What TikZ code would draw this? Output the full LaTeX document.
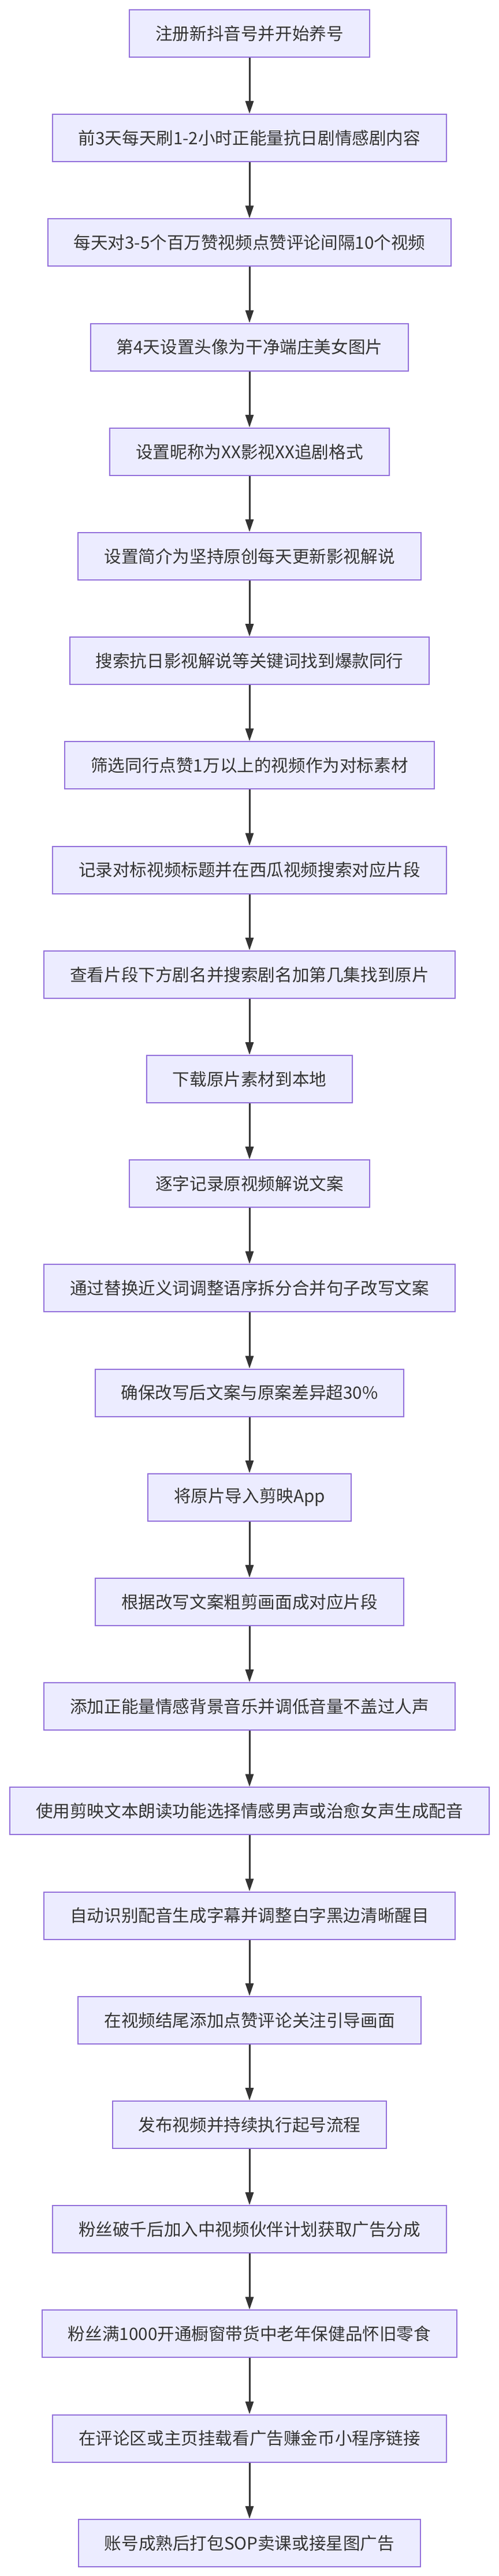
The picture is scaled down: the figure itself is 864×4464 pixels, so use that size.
\documentclass[tikz,border=0pt]{standalone}
\usepackage{fontspec}
\setmainfont{Noto Sans CJK SC}
\usetikzlibrary{arrows.meta}
\definecolor{boxfill}{HTML}{ECECFF}
\definecolor{boxline}{HTML}{9370DB}
\definecolor{arr}{HTML}{333333}
\begin{document}
\begin{tikzpicture}[x=1pt,y=-1pt,
  stepbox/.style={draw=boxline,fill=boxfill,line width=2pt,minimum height=82pt,inner xsep=45pt,inner ysep=0pt,font=\fontsize{29.6}{34}\selectfont,text=arr},
  conn/.style={draw=arr,line width=3pt,-{Triangle[length=22pt,width=14pt]}}]
\useasboundingbox[fill=white] (0,0) rectangle (864,4464);
\foreach \t [count=\i] in {
注册新抖音号并开始养号,
前3天每天刷1-2小时正能量抗日剧情感剧内容,
每天对3-5个百万赞视频点赞评论间隔10个视频,
第4天设置头像为干净端庄美女图片,
设置昵称为XX影视XX追剧格式,
设置简介为坚持原创每天更新影视解说,
搜索抗日影视解说等关键词找到爆款同行,
筛选同行点赞1万以上的视频作为对标素材,
记录对标视频标题并在西瓜视频搜索对应片段,
查看片段下方剧名并搜索剧名加第几集找到原片,
下载原片素材到本地,
逐字记录原视频解说文案,
通过替换近义词调整语序拆分合并句子改写文案,
确保改写后文案与原案差异超30\%,
将原片导入剪映App,
根据改写文案粗剪画面成对应片段,
添加正能量情感背景音乐并调低音量不盖过人声,
使用剪映文本朗读功能选择情感男声或治愈女声生成配音,
自动识别配音生成字幕并调整白字黑边清晰醒目,
在视频结尾添加点赞评论关注引导画面,
发布视频并持续执行起号流程,
粉丝破千后加入中视频伙伴计划获取广告分成,
粉丝满1000开通橱窗带货中老年保健品怀旧零食,
在评论区或主页挂载看广告赚金币小程序链接,
账号成熟后打包SOP卖课或接星图广告}
{ \node[stepbox] (n\i) at (432,{58+181.2*(\i-1)}) {\t}; }
\foreach \i [evaluate=\i as \j using int(\i+1)] in {1,...,24}
{ \draw[conn] (n\i) -- (n\j); }
\end{tikzpicture}
\end{document}
